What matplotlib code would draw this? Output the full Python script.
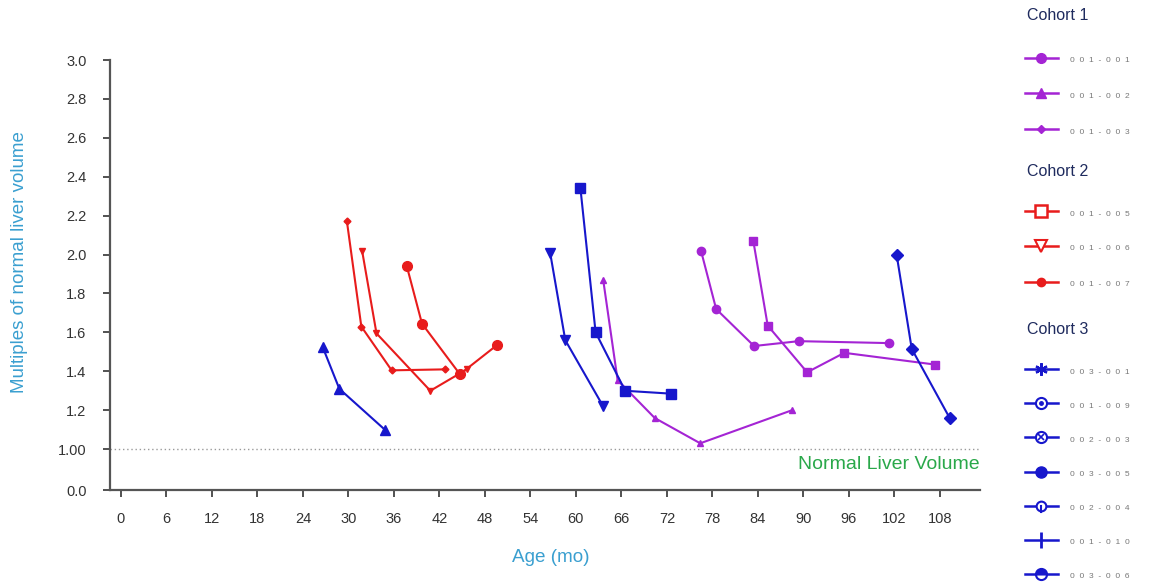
import numpy as np
import matplotlib
matplotlib.use("Agg")
import matplotlib.pyplot as plt
from matplotlib.lines import Line2D

plt.rcParams['font.family'] = ['Liberation Sans', 'DejaVu Sans']

PURPLE = '#a424d4'
RED = '#e81c1c'
BLUE = '#1717cc'

# age (months) and liver volume (multiples of normal) per patient
age_c1_circ = [76.5, 78.5, 83.5, 89.4, 101.3]
vol_c1_circ = [2.02, 1.72, 1.53, 1.555, 1.545]
age_c1_tri = [63.6, 65.5, 70.4, 76.4, 88.5]
vol_c1_tri = [1.87, 1.355, 1.16, 1.03, 1.20]
age_c1_sq = [83.4, 85.3, 90.5, 95.4, 107.3]
vol_c1_sq = [2.07, 1.635, 1.395, 1.495, 1.435]

age_c2_dia = [29.8, 31.7, 35.7, 42.7]
vol_c2_dia = [2.17, 1.63, 1.405, 1.41]
age_c2_vtri = [31.8, 33.7, 40.8, 45.6]
vol_c2_vtri = [2.02, 1.595, 1.30, 1.41]
age_c2_circ = [37.7, 39.7, 44.7, 49.6]
vol_c2_circ = [1.94, 1.645, 1.385, 1.535]

age_c3_tri = [26.6, 28.8, 34.8]
vol_c3_tri = [1.525, 1.31, 1.10]
age_c3_vtri = [56.6, 58.6, 63.6]
vol_c3_vtri = [2.01, 1.56, 1.22]
age_c3_sq = [60.6, 62.6, 66.5, 72.6]
vol_c3_sq = [2.34, 1.60, 1.30, 1.285]
age_c3_dia = [102.3, 104.3, 109.3]
vol_c3_dia = [2.00, 1.515, 1.16]

x_ticks = list(range(0, 109, 6))
y_ticks = [0.0, 1.0, 1.2, 1.4, 1.6, 1.8, 2.0, 2.2, 2.4, 2.6, 2.8, 3.0]
y_tick_labels = ['0.0', '1.00', '1.2', '1.4', '1.6', '1.8', '2.0', '2.2', '2.4', '2.6', '2.8', '3.0']

cohort_titles = ['Cohort 1', 'Cohort 2', 'Cohort 3']
legend_ids = [
    ['0 0 1 - 0 0 1', '0 0 1 - 0 0 2', '0 0 1 - 0 0 3'],
    ['0 0 1 - 0 0 5', '0 0 1 - 0 0 6', '0 0 1 - 0 0 7'],
    ['0 0 3 - 0 0 1', '0 0 1 - 0 0 9', '0 0 2 - 0 0 3', '0 0 3 - 0 0 5',
     '0 0 2 - 0 0 4', '0 0 1 - 0 1 0', '0 0 3 - 0 0 6'],
]

# the band below 1.0 is squeezed (broken axis look)
SQ = 0.21


def fwd(y):
    y = np.asarray(y, dtype=float)
    return np.where(y >= 1, y, 1 - (1 - y) * SQ)


def inv(t):
    t = np.asarray(t, dtype=float)
    return np.where(t >= 1, t, 1 - (1 - t) / SQ)


W, H = 1166, 587
fig = plt.figure(figsize=(W / 100, H / 100), dpi=100)
ax = fig.add_axes([110 / W, (H - 490) / H, 870 / W, 430 / H])
ax.set_yscale('function', functions=(fwd, inv))

series = [
    (age_c1_circ, vol_c1_circ, PURPLE, 'o', 6),
    (age_c1_tri, vol_c1_tri, PURPLE, '^', 5),
    (age_c1_sq, vol_c1_sq, PURPLE, 's', 6),
    (age_c2_dia, vol_c2_dia, RED, 'D', 3.5),
    (age_c2_vtri, vol_c2_vtri, RED, 'v', 5),
    (age_c2_circ, vol_c2_circ, RED, 'o', 7),
    (age_c3_tri, vol_c3_tri, BLUE, '^', 7),
    (age_c3_vtri, vol_c3_vtri, BLUE, 'v', 7),
    (age_c3_sq, vol_c3_sq, BLUE, 's', 7),
    (age_c3_dia, vol_c3_dia, BLUE, 'D', 6),
]
for xs, ys, col, mk, ms in series:
    ax.plot(xs, ys, color=col, marker=mk, ms=ms, lw=1.5, mec=col, mfc=col)

ax.axhline(1.0, color='#9a9a9a', ls=(0, (1, 2)), lw=1)
ax.text(1.0, 0.06, 'Normal Liver Volume', transform=ax.transAxes,
        ha='right', va='center', color='#2aa84a', fontsize=14)

ax.set_xlim(-1.45, 113.3)
ax.set_ylim(0, 3.0)
ax.set_xticks(x_ticks)
ax.set_yticks(y_ticks)
ax.set_yticklabels(y_tick_labels)
ax.tick_params(axis='x', length=5, width=1.2, pad=11, labelsize=10.5, colors='#333333')
ax.tick_params(axis='y', length=5, width=1.2, pad=12, labelsize=10.5, colors='#333333')
for s in ['top', 'right']:
    ax.spines[s].set_visible(False)
for s in ['left', 'bottom']:
    ax.spines[s].set_color('#555555')
    ax.spines[s].set_linewidth(1.6)

fig.text(20 / W, 1 - 262 / H, 'Multiples of normal liver volume', rotation=90,
         ha='center', va='center', color='#3a9fd0', fontsize=13.5)
fig.text(551 / W, 1 - 558 / H, 'Age (mo)', ha='center', va='center',
         color='#3a9fd0', fontsize=13.6)

# legend panel drawn in pixel units
lg = fig.add_axes([0, 0, 1, 1], facecolor='none')
lg.set_xlim(0, W)
lg.set_ylim(H, 0)
lg.axis('off')

legend_rows = [[58, 93, 129], [211, 246, 282], [369, 403, 437, 472, 506, 540, 574]]
title_rows = [16, 171, 329]
cohort_colors = [PURPLE, RED, BLUE]
legend_marks = [
    [dict(marker='o', ms=7), dict(marker='^', ms=7), dict(marker='D', ms=4.5)],
    [dict(marker='s', ms=8, mfc='white', mew=1.8), dict(marker='v', ms=8, mfc='white', mew=1.5),
     dict(marker='o', ms=6)],
    [dict(marker=(6, 2, 0), ms=9, mew=1.6), dict(marker='o', ms=8, mfc='white', mew=1.5),
     dict(marker='o', ms=8, mfc='white', mew=1.5), dict(marker='o', ms=8),
     dict(marker='o', ms=7, mfc='white', mew=1.5), dict(marker='|', ms=11, mew=2),
     dict(marker='o', ms=8, fillstyle='top', mfcalt='white', mew=1.5)],
]
for ci, title in enumerate(cohort_titles):
    lg.text(1027, title_rows[ci], title, ha='left', va='center',
            color='#1f2b5e', fontsize=11.5)
    col = cohort_colors[ci]
    for ri, lab in enumerate(legend_ids[ci]):
        yy = legend_rows[ci][ri]
        lg.add_line(Line2D([1025, 1058], [yy, yy], color=col, lw=1.8))
        kw = dict(color=col, mec=col, mfc=col, ls='none')
        kw.update(legend_marks[ci][ri])
        lg.add_line(Line2D([1041], [yy], **kw))
        lg.text(1070, yy + 3, lab.replace(' ', '  '), ha='left', va='center',
                color='#777777', fontsize=6)

# extra details inside a few cohort 3 symbols
lg.add_line(Line2D([1041], [403], marker='o', ms=2.5, color=BLUE, ls='none'))
lg.add_line(Line2D([1041], [437], marker='x', ms=5, mew=1.2, color=BLUE, ls='none'))
lg.add_line(Line2D([1041, 1041], [506, 512], color=BLUE, lw=1.5))

fig.savefig('out.png', dpi=100)
